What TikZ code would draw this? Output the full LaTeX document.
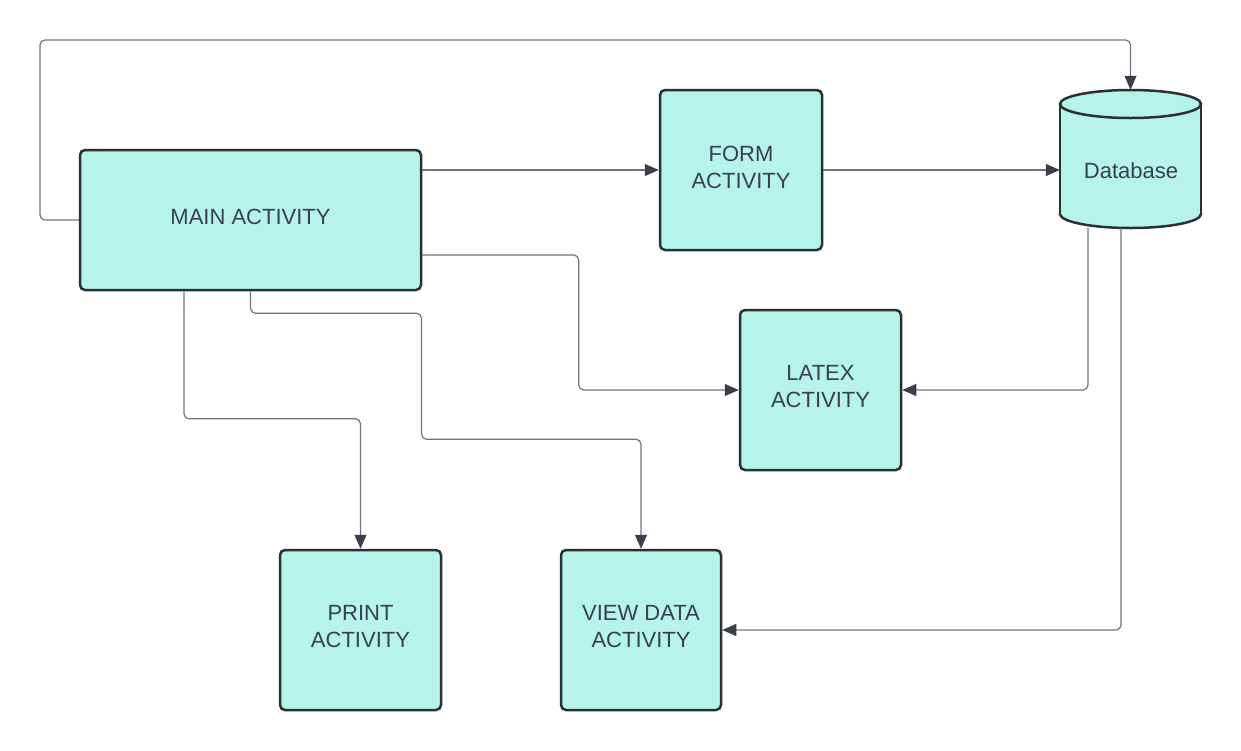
\documentclass[tikz,border=0pt]{standalone}
\usepackage{fontspec}
\setmainfont{Liberation Sans}
\usetikzlibrary{arrows.meta}
\definecolor{boxfill}{HTML}{B5F3EB}
\definecolor{boxline}{HTML}{2B2F36}
\definecolor{wire}{HTML}{70747C}
\definecolor{tipc}{HTML}{3A3F4B}
\definecolor{txt}{HTML}{3A3F4B}
\begin{document}
\begin{tikzpicture}[x=1pt,y=-1pt,
  act/.style={draw=boxline, fill=boxfill, line width=2.5pt, rounded corners=5pt, inner sep=0pt},
  lbl/.style={align=center, text=txt, font=\fontsize{22}{27}\selectfont, inner sep=0pt, yshift=3pt},
  wirearrow/.style={draw=wire, line width=1.2pt, rounded corners=5pt,
    -{Triangle[length=14pt,width=12pt,color=tipc]}},
  cyl/.style={fill=boxfill, draw=boxline, line width=2.5pt}]
\fill[white] (0,0) rectangle (1241,750);
\useasboundingbox (0,0) rectangle (1241,750);

\node[act, minimum width=341pt, minimum height=140pt] (main) at (250.5,220) {};
\node[act, minimum width=162pt, minimum height=160pt] (form) at (741,170) {};
\node[act, minimum width=161pt, minimum height=160pt] (latex) at (820.5,390) {};
\node[act, minimum width=161pt, minimum height=160pt] (print) at (360.5,630) {};
\node[act, minimum width=160pt, minimum height=160pt] (view) at (641,630) {};
\node[lbl] (mainlbl) at (main.center) {MAIN ACTIVITY};
\node[lbl] (formlbl) at (form.center) {FORM\\ACTIVITY};
\node[lbl] (latexlbl) at (latex.center) {LATEX\\ACTIVITY};
\node[lbl] (printlbl) at (print.center) {PRINT\\ACTIVITY};
\node[lbl] (viewlbl) at (view.center) {VIEW DATA\\ACTIVITY};

% database cylinder
\draw[cyl] (1130.5,214) ellipse [x radius=70.5, y radius=14];
\fill[boxfill] (1060,104) rectangle (1201,214);
\draw[boxline, line width=2.5pt] (1060,104) -- (1060,214) (1201,104) -- (1201,214);
\draw[cyl] (1130.5,104) ellipse [x radius=70.5, y radius=14];
\node[minimum width=141pt, minimum height=138pt, inner sep=0pt] (db) at (1130.5,159) {};
\node[lbl, yshift=-3pt] (dblabel) at (1131,171) {Database};

% connectors
\draw[wirearrow] (main.west) -| (40,40) -| (db.north);
\draw[wirearrow] (main.east |- form.west) -- (form.west);
\draw[wirearrow] (form.east) -- (db.west |- form.east);
\draw[wirearrow] ([yshift=-35pt]main.east) -| ([xshift=-160pt]latex.west) -- (latex.west);
\draw[wirearrow] ([xshift=-42.5pt]db.south) |- (latex.east);
\draw[wirearrow] ([xshift=-9.5pt]db.south) |- (view.east);
\draw[wirearrow] ([xshift=-66.5pt]main.south) |- ([yshift=130pt]print.north) -- (print.north);
\draw[wirearrow] (main.south) -- ++(0,22) -| ++(171,126) -| (view.north);
\end{tikzpicture}
\end{document}
